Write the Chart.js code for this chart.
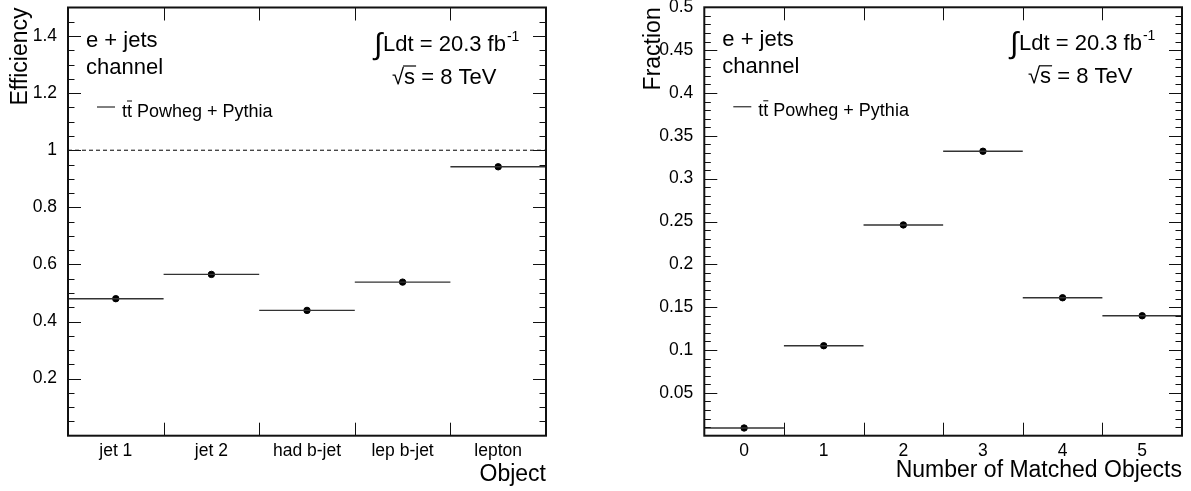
<!DOCTYPE html>
<html lang="en">
<head>
    <meta charset="UTF-8">
    <title>Matching efficiency and fraction</title>
    <style>
        body {
            margin: 0;
            background-color: #fff;
            width: 1191px;
            height: 491px;
            overflow: hidden;
            position: relative;
        }
        .panel {
            position: absolute;
            top: 0;
            height: 491px;
        }
        #leftPanel { left: 0; width: 595px; }
        #rightPanel { left: 595px; width: 596px; }
    </style>
    <script src="https://cdn.jsdelivr.net/npm/chart.js"></script>
</head>
<body>
    <div class="panel" id="leftPanel"><canvas id="effChart"></canvas></div>
    <div class="panel" id="rightPanel"><canvas id="fracChart"></canvas></div>

    <script>
        // Left panel: efficiency per object
        const objectLabels = ['jet 1', 'jet 2', 'had b-jet', 'lep b-jet', 'lepton'];
        const efficiency = [0.48, 0.565, 0.439, 0.538, 0.942];
        const effTicks = [0.2, 0.4, 0.6, 0.8, 1, 1.2, 1.4];
        const effRefLine = 1;

        // Right panel: number of matched objects
        const matchedLabels = ['0', '1', '2', '3', '4', '5'];
        const fraction = [0.009, 0.105, 0.246, 0.332, 0.161, 0.140];
        const fracTicks = [0.05, 0.1, 0.15, 0.2, 0.25, 0.3, 0.35, 0.4, 0.45, 0.5];

        const FONT = '"Liberation Sans", Arial, Helvetica, sans-serif';
        Chart.defaults.font.family = FONT;
        Chart.defaults.color = '#000';

        // horizontal bin-width bars, separated by nulls so the line breaks
        function binSegments(values) {
            const pts = [];
            values.forEach((v, i) => {
                pts.push({ x: i - 0.5, y: v }, { x: i + 0.5, y: v }, { x: i + 0.5, y: null });
            });
            return pts;
        }

        function fmt(v) {
            return String(Math.round(v * 1000) / 1000);
        }

        // ROOT style frame with inward ticks
        const framePlugin = {
            id: 'frame',
            afterDatasetsDraw(chart, args, opts) {
                const { ctx, chartArea: a } = chart;
                const xs = chart.scales.x, ys = chart.scales.y;
                ctx.save();
                ctx.strokeStyle = '#111';
                ctx.lineWidth = 1;
                ctx.beginPath();
                // y ticks on both sides
                for (let k = 0; k * opts.minorStep <= ys.max + 1e-9; k++) {
                    const v = k * opts.minorStep;
                    if (v <= ys.min + 1e-9 || v >= ys.max - 1e-9) continue;
                    const major = k % opts.minorPerMajor === 0;
                    const len = major ? 13 : 6.5;
                    const py = Math.round(ys.getPixelForValue(v)) + 0.5;
                    ctx.moveTo(a.left, py); ctx.lineTo(a.left + len, py);
                    ctx.moveTo(a.right, py); ctx.lineTo(a.right - len, py);
                }
                // x ticks at bin edges, top and bottom
                for (let e = xs.min + 1; e < xs.max - 0.01; e++) {
                    const px = Math.round(xs.getPixelForValue(e)) + 0.5;
                    ctx.moveTo(px, a.bottom); ctx.lineTo(px, a.bottom - 13);
                    ctx.moveTo(px, a.top); ctx.lineTo(px, a.top + 13);
                }
                ctx.stroke();
                ctx.lineWidth = 2;
                ctx.strokeRect(a.left, a.top, a.right - a.left, a.bottom - a.top);
                ctx.restore();
            }
        };

        // channel, legend and luminosity texts
        const labelPlugin = {
            id: 'atlasText',
            afterDraw(chart) {
                const { ctx, chartArea: a } = chart;
                ctx.save();
                ctx.fillStyle = '#000';
                ctx.strokeStyle = '#000';
                ctx.textBaseline = 'alphabetic';
                ctx.textAlign = 'left';

                ctx.font = '22px ' + FONT;
                ctx.fillText('e + jets', a.left + 18, a.top + 39);
                ctx.fillText('channel', a.left + 18, a.top + 66);

                // legend entry
                ctx.lineWidth = 1;
                ctx.beginPath();
                ctx.moveTo(a.left + 29, a.top + 99.5);
                ctx.lineTo(a.left + 47, a.top + 99.5);
                ctx.stroke();
                ctx.font = '18px ' + FONT;
                const lx = a.left + 54, ly = a.top + 109;
                ctx.fillText('tt Powheg + Pythia', lx, ly);
                const tW = ctx.measureText('t').width;
                ctx.beginPath();
                ctx.moveTo(lx + tW, ly - 15.5);
                ctx.lineTo(lx + 2 * tW, ly - 15.5);
                ctx.stroke();

                // luminosity
                const ix = a.right - 170;
                ctx.font = '30px ' + FONT;
                ctx.fillText('\u222B', ix - 2, a.top + 46);
                ctx.font = '22px ' + FONT;
                const lumi = 'Ldt = 20.3 fb';
                ctx.fillText(lumi, ix + 7, a.top + 43);
                const lw = ctx.measureText(lumi).width;
                ctx.font = '14px ' + FONT;
                ctx.fillText('-1', ix + 8 + lw, a.top + 33);

                // sqrt(s)
                const sx = a.right - 154;
                ctx.font = '22px ' + FONT;
                ctx.fillText('\u221A', sx, a.top + 76);
                const rw = ctx.measureText('\u221A').width;
                ctx.fillText('s = 8 TeV', sx + rw, a.top + 76);
                const sw = ctx.measureText('s').width;
                ctx.lineWidth = 1.2;
                ctx.beginPath();
                ctx.moveTo(sx + rw - 1, a.top + 58.5);
                ctx.lineTo(sx + rw + sw + 1, a.top + 58.5);
                ctx.stroke();
                ctx.restore();
            }
        };

        function makeChart(canvasId, cfg) {
            const n = cfg.labels.length;
            const datasets = [
                {
                    type: 'line',
                    data: binSegments(cfg.values),
                    borderColor: '#333',
                    borderWidth: 1.4,
                    pointRadius: 0,
                    spanGaps: false
                },
                {
                    type: 'scatter',
                    data: cfg.values.map((v, i) => ({ x: i, y: v })),
                    backgroundColor: '#000',
                    borderColor: '#000',
                    pointRadius: 3.2,
                    pointHoverRadius: 3.2
                }
            ];
            if (cfg.refLine !== undefined) {
                datasets.push({
                    type: 'line',
                    data: [{ x: -0.5, y: cfg.refLine }, { x: n - 0.5, y: cfg.refLine }],
                    borderColor: '#000',
                    borderWidth: 1,
                    borderDash: [4, 3],
                    pointRadius: 0
                });
            }
            return new Chart(document.getElementById(canvasId), {
                type: 'scatter',
                data: { datasets: datasets },
                options: {
                    responsive: true,
                    maintainAspectRatio: false,
                    animation: false,
                    layout: { padding: cfg.padding },
                    plugins: {
                        legend: { display: false },
                        tooltip: { enabled: false },
                        frame: { minorStep: cfg.minorStep, minorPerMajor: cfg.minorPerMajor }
                    },
                    scales: {
                        x: {
                            type: 'linear',
                            min: -0.5,
                            max: n - 0.5,
                            grid: { display: false },
                            border: { display: false },
                            afterBuildTicks: s => { s.ticks = cfg.labels.map((_, i) => ({ value: i })); },
                            afterFit: s => { s.height = 55.3; s.paddingLeft = 0; s.paddingRight = 0; },
                            ticks: {
                                autoSkip: false,
                                maxRotation: 0,
                                padding: -3,
                                font: { size: 17.5 },
                                callback: v => cfg.labels[v]
                            },
                            title: {
                                display: true,
                                text: cfg.xTitle,
                                align: 'end',
                                font: { size: 23 },
                                padding: { top: 0, bottom: cfg.xTitlePad }
                            }
                        },
                        y: {
                            type: 'linear',
                            min: 0,
                            max: cfg.yMax,
                            grid: { display: false },
                            border: { display: false },
                            afterBuildTicks: s => { s.ticks = cfg.yTicks.map(v => ({ value: v })); },
                            afterFit: s => { s.width = cfg.yWidth; s.paddingTop = 0; s.paddingBottom = 0; },
                            ticks: {
                                autoSkip: false,
                                padding: 3,
                                font: { size: 17.5 },
                                callback: v => fmt(v)
                            },
                            title: {
                                display: true,
                                text: cfg.yTitle,
                                align: 'end',
                                font: { size: 23 },
                                padding: { top: cfg.yTitlePad, bottom: 0 }
                            }
                        }
                    }
                },
                plugins: [framePlugin, labelPlugin]
            });
        }

        makeChart('effChart', {
            labels: objectLabels,
            values: efficiency,
            refLine: effRefLine,
            yTicks: effTicks,
            yMax: 1.5,
            minorStep: 0.05,
            minorPerMajor: 4,
            xTitle: 'Object',
            yTitle: 'Efficiency',
            yWidth: 68,
            yTitlePad: 6.5,
            xTitlePad: 2.5,
            padding: { top: 7.5, right: 49, left: 0, bottom: 0 }
        });

        makeChart('fracChart', {
            labels: matchedLabels,
            values: fraction,
            yTicks: fracTicks,
            yMax: 0.5,
            minorStep: 0.01,
            minorPerMajor: 5,
            xTitle: 'Number of Matched Objects',
            yTitle: 'Fraction',
            yWidth: 109.3,
            yTitlePad: 45,
            xTitlePad: 7,
            padding: { top: 7.3, right: 9, left: 0, bottom: 0 }
        });
    </script>
</body>
</html>
